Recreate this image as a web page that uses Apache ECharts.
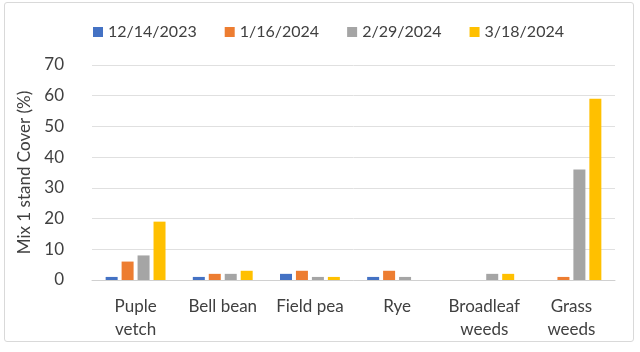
<!DOCTYPE html>
<html>
<head>
<meta charset="utf-8">
<script src="https://cdn.jsdelivr.net/npm/echarts@6/dist/echarts.min.js"></script>
<style>
  html, body { margin: 0; padding: 0; background: #fff; }
  #wrap { position: absolute; left: 4px; top: 2px; width: 628px; height: 338px; border: 1px solid #d9d9d9; border-radius: 3px; }
  #chart { position: absolute; left: 0; top: 0; width: 640px; height: 352px; }
</style>
</head>
<body>
<div id="wrap"></div>
<div id="chart"></div>
<script>
var categories = ['Puple\nvetch', 'Bell bean', 'Field pea', 'Rye', 'Broadleaf\nweeds', 'Grass\nweeds'];
var dates = ['12/14/2023', '1/16/2024', '2/29/2024', '3/18/2024'];
var dec14 = [1, 1, 2, 1, 0, 0];
var jan16 = [6, 2, 3, 3, 0, 1];
var feb29 = [8, 2, 1, 1, 2, 36];
var mar18 = [19, 3, 1, 0, 2, 59];
var yTicks = [0, 10, 20, 30, 40, 50, 60, 70];
var colors = ['#4472C4', '#ED7D31', '#A5A5A5', '#FFC000'];

var font = 'Lato, "Open Sans", sans-serif';
var seriesData = [dec14, jan16, feb29, mar18];

var chart = echarts.init(document.getElementById('chart'));
chart.setOption({
  animation: false,
  color: colors,
  textStyle: { fontFamily: font },
  legend: {
    top: 19,
    left: 88,
    itemWidth: 10,
    itemHeight: 10,
    itemGap: 28,
    icon: 'rect',
    textStyle: { fontSize: 16, color: '#404040', fontFamily: font },
    data: dates
  },
  grid: { left: 92, right: 25, top: 65, bottom: 72 },
  xAxis: {
    type: 'category',
    data: categories,
    axisLine: { lineStyle: { color: '#d0d0d0' } },
    axisTick: { show: false },
    axisLabel: { interval: 0, color: '#404040', fontSize: 17, lineHeight: 23, margin: 15, fontFamily: font }
  },
  yAxis: {
    type: 'value',
    min: yTicks[0],
    max: yTicks[yTicks.length - 1],
    interval: 10,
    name: 'Mix 1 stand Cover (%)',
    nameLocation: 'middle',
    nameGap: 34,
    nameRotate: 90,
    nameTextStyle: { fontSize: 17, color: '#404040', fontFamily: font },
    axisLine: { show: false },
    axisTick: { show: false },
    axisLabel: { color: '#404040', fontSize: 17, margin: 28, fontFamily: font },
    splitLine: { lineStyle: { color: '#e0e0e0' } }
  },
  series: seriesData.map(function(d, i){
    return {
      name: dates[i],
      type: 'bar',
      data: d,
      barWidth: 12,
      barGap: '33%',
      barCategoryGap: '30%'
    };
  })
});
</script>
</body>
</html>
